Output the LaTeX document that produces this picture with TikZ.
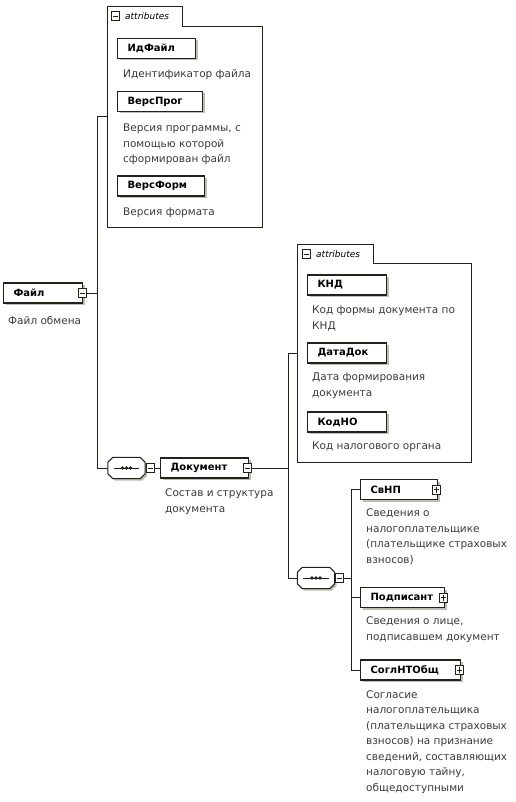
\documentclass[tikz,border=0pt]{standalone}
\usepackage{fontspec}
\setmainfont{DejaVu Sans}
\usepackage{xcolor}
\usepackage{tikz}
\usetikzlibrary{shadows}
\definecolor{xsdInk}{HTML}{22221A}
\definecolor{xsdText}{HTML}{3A3A3A}
\definecolor{xsdShade}{HTML}{BDBDB4}

\begin{document}
\begin{tikzpicture}[
  x=1pt, y=-1pt,
  font=\fontsize{10.5}{15.5}\selectfont,
  ln/.style={draw=xsdInk,line width=0.9pt},
  fr/.style={draw=xsdInk,line width=0.9pt},
  el/.style={draw=xsdInk,line width=1.1pt,fill=white,anchor=west,
             minimum height=20pt,inner xsep=10pt,inner ysep=0pt,
             text width=#1,align=left,
             font=\fontsize{10}{12}\selectfont\bfseries,
             drop shadow={shadow xshift=2pt,shadow yshift=-2pt,
                          fill=xsdShade,opacity=1}},
  ds/.style={anchor=north west,inner sep=0pt,align=left,text=xsdText,
             font=\fontsize{10.5}{15.5}\selectfont},
  atttab/.style={anchor=west,inner sep=0pt,
             font=\fontsize{9}{10}\selectfont\itshape},
  ic/.style={draw=xsdInk,fill=white,line width=0.8pt,
             minimum width=8pt,minimum height=9pt,inner sep=0pt},
  mi/.style={ic,path picture={
    \draw[xsdInk,line width=0.8pt]
      ([xshift=1.5pt]path picture bounding box.west) --
      ([xshift=-1.5pt]path picture bounding box.east);}},
  pl/.style={ic,path picture={
    \draw[xsdInk,line width=0.8pt]
      ([xshift=1.5pt]path picture bounding box.west) --
      ([xshift=-1.5pt]path picture bounding box.east)
      ([yshift=1.5pt]path picture bounding box.south) --
      ([yshift=-1.5pt]path picture bounding box.north);}},
  sq/.style={minimum width=37pt,minimum height=21pt,inner sep=0pt},
  sqf/.style={draw=xsdInk,line width=1pt,fill=white,
             drop shadow={shadow xshift=2pt,shadow yshift=-2pt,
                          fill=xsdShade,opacity=1}}
]
\useasboundingbox (0,0) rectangle (515,802);

% root element
\node[el=59pt] (fajl) at (3,293) {Файл};
\node[mi] (fajlI) at ([xshift=-1pt]fajl.east) {};
\node[ds] (fajlD) at (8,316) {Файл обмена};

% attributes of Файл
\draw[fr] (107,227) -- (107,6) -- (182,6) -- (182,26) -- (262,26)
  -- (262,227) -- cycle;
\node[mi] (at1I) at (115,16) {};
\node[atttab] (at1T) at (125,16) {attributes};
\node[el=58pt] (idf) at (117,48.5) {ИдФайл};
\node[ds] (idfD) at (123,69) {Идентификатор файла};
\node[el=65pt] (vprog) at (117,101.5) {ВерсПрог};
\node[ds] (vprogD) at (123,124) {Версия программы, с\\помощью которой\\сформирован файл};
\node[el=67pt] (vform) at (117,186) {ВерсФорм};
\node[ds] (vformD) at (123,208) {Версия формата};

% sequence nodes
\node[sq] (sq1) at (126.5,468) {};
\node[sq] (sq2) at (316,578) {};
\foreach \s in {sq1,sq2}{
  \draw[sqf] ([xshift=5pt]\s.north west) -- ([xshift=-5pt]\s.north east)
    -- ([yshift=-5pt]\s.north east) -- ([yshift=5pt]\s.south east)
    -- ([xshift=-5pt]\s.south east) -- ([xshift=5pt]\s.south west)
    -- ([yshift=5pt]\s.south west) -- ([yshift=-5pt]\s.north west) -- cycle;
  \draw[xsdInk,line width=1pt] ([xshift=6pt]\s.west) -- ([xshift=-6pt]\s.east);
  \foreach \d in {-4,0,4}
    \fill[xsdInk] ([xshift=\d pt]\s.center) circle (1.8pt);
}
\node[mi,anchor=west] (sq1I) at ([xshift=1pt]sq1.east) {};
\node[mi,anchor=west] (sq2I) at ([xshift=0.5pt]sq2.east) {};

% Документ
\node[el=68pt] (dok) at (160,468) {Документ};
\node[mi] (dokI) at ([xshift=-1.5pt]dok.east) {};
\node[ds] (dokD) at (165,489) {Состав и структура\\документа};

\coordinate (at1L) at (107,116);
\coordinate (tA) at (97,116);
\coordinate (tB) at (97,468);
\draw[ln] (fajlI.east) -- (fajlI.east -| tA);
\draw[ln] (at1L) -- (tA) -- (tB) -- (sq1.west);
\draw[ln] (sq1I.east) -- (dok.west);

% attributes of Документ
\draw[fr] (297,462) -- (297,244) -- (373,244) -- (373,263) -- (471,263)
  -- (471,462) -- cycle;
\node[mi] (at2I) at (306.5,254) {};
\node[atttab] (at2T) at (316,254) {attributes};
\node[el=59pt] (knd) at (307,285) {КНД};
\node[ds] (kndD) at (312,306) {Код формы документа по\\КНД};
\node[el=59pt] (ddok) at (307,353) {ДатаДок};
\node[ds] (ddokD) at (312,373) {Дата формирования\\документа};
\node[el=59pt] (kno) at (307,422) {КодНО};
\node[ds] (knoD) at (312,442) {Код налогового органа};

\coordinate (at2L) at (297,353);
\coordinate (tC) at (288,353);
\coordinate (tD) at (288,578);
\draw[ln] (dokI.east) -- (dokI.east -| tC);
\draw[ln] (at2L) -- (tC) -- (tD) -- (sq2.west);

% children of the sequence
\node[el=57pt] (svnp) at (360,489.5) {СвНП};
\node[pl] (svnpI) at ([xshift=-1.5pt]svnp.east) {};
\node[ds] (svnpD) at (366,509) {Сведения о\\налогоплательщике\\(плательщике страховых\\взносов)};
\node[el=64pt] (podp) at (360,597.5) {Подписант};
\node[pl] (podpI) at ([xshift=-1.5pt]podp.east) {};
\node[ds] (podpD) at (366,617) {Сведения о лице,\\подписавшем документ};
\node[el=80pt] (sogl) at (360,670) {СоглНТОбщ};
\node[pl] (soglI) at ([xshift=-2pt]sogl.east) {};
\node[ds] (soglD) at (366,690) {Согласие\\налогоплательщика\\(плательщика страховых\\взносов) на признание\\сведений, составляющих\\налоговую тайну,\\общедоступными};

\coordinate (bA) at (351,489.5);
\coordinate (bB) at (351,670);
\draw[ln] (sq2I.east) -- (sq2I.east -| bA);
\draw[ln] (svnp.west) -- (bA) -- (bB) -- (sogl.west);
\draw[ln] (podp.west) -- (podp.west -| bA);
\end{tikzpicture}
\end{document}
